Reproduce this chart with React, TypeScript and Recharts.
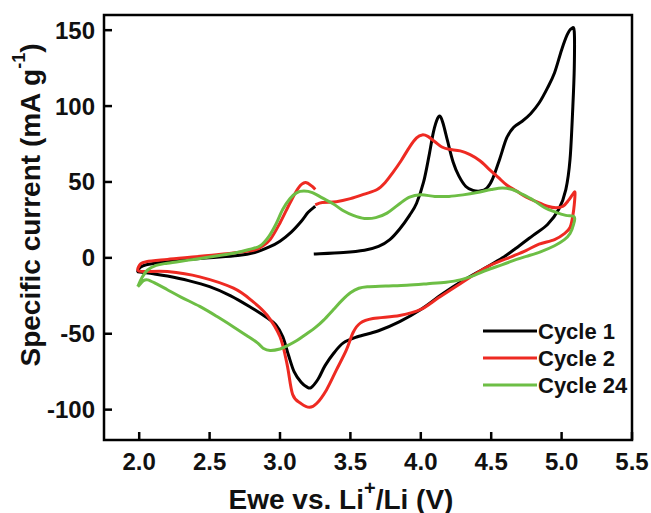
import React from 'react';
import { LineChart, Line, XAxis, YAxis, ReferenceArea, Legend } from 'recharts';

const FONT = '"Liberation Sans", Arial, Helvetica, sans-serif';

const xTicks = [2.0, 2.5, 3.0, 3.5, 4.0, 4.5, 5.0, 5.5];
const yTicks = [-100, -50, 0, 50, 100, 150];

const seriesNames = ['Cycle 1', 'Cycle 2', 'Cycle 24'];
const seriesColors = ['#000000', '#ee2a22', '#6dbe45'];

const cycle1V = [3.24, 3.45, 3.6, 3.7, 3.78, 3.85, 3.92, 3.97, 4.02, 4.06, 4.09, 4.12, 4.14, 4.16, 4.19, 4.23, 4.27, 4.32, 4.37, 4.42, 4.47, 4.51, 4.56, 4.61, 4.66, 4.72, 4.78, 4.84, 4.9, 4.95, 5.0, 5.04, 5.07, 5.09, 5.09, 5.08, 5.06, 5.03, 4.98, 4.9, 4.8, 4.7, 4.58, 4.45, 4.3, 4.15, 4.0, 3.85, 3.7, 3.55, 3.45, 3.38, 3.32, 3.27, 3.22, 3.19, 3.15, 3.1, 3.06, 3.02, 2.97, 2.9, 2.8, 2.65, 2.5, 2.35, 2.2, 2.1, 2.02, 1.99, 2.01, 2.05, 2.15, 2.3, 2.5, 2.7, 2.82, 2.92, 3.0, 3.08, 3.15, 3.2, 3.25];
const cycle1I = [2.5, 3.5, 5, 7.5, 12, 19, 28, 36, 50, 68, 83, 92, 93, 88, 77, 63, 54, 47, 44.5, 44, 46, 52, 65, 79, 86, 90, 95, 102, 112, 122, 137, 147, 151, 149, 125, 100, 65, 45, 32, 22, 15, 8, 0, -7, -15, -24, -34, -42, -48, -52, -56, -63, -71, -80, -85.5, -85, -82, -75, -64, -52, -44, -39, -33, -25, -19, -15, -12, -10.5, -9.5, -9, -6, -4.5, -3, -1.5, 0, 1.5, 3.5, 7, 11, 17, 24, 30, 34];

const cycle2V = [3.25, 3.3, 3.4, 3.5, 3.6, 3.69, 3.75, 3.8, 3.86, 3.92, 3.97, 4.01, 4.05, 4.1, 4.15, 4.2, 4.28, 4.35, 4.42, 4.49, 4.55, 4.61, 4.68, 4.75, 4.82, 4.9, 4.96, 5.01, 5.05, 5.08, 5.095, 5.09, 5.08, 5.06, 5.02, 4.95, 4.84, 4.75, 4.65, 4.47, 4.28, 4.13, 4.0, 3.85, 3.66, 3.57, 3.52, 3.47, 3.4, 3.33, 3.26, 3.21, 3.15, 3.09, 3.05, 3.0, 2.91, 2.81, 2.67, 2.43, 2.2, 2.03, 1.99, 2.01, 2.05, 2.2, 2.55, 2.81, 2.87, 2.93, 3.0, 3.07, 3.13, 3.18, 3.23, 3.25];
const cycle2I = [35, 36.5, 37, 39, 42, 45, 50, 56, 64, 73, 79, 81, 80, 76.5, 73, 71.5, 70.5, 68, 64, 58, 53, 48, 44, 40, 37, 34, 33, 34, 38, 42, 43, 35, 28, 20, 16, 12, 9, 5, 1, -6, -17, -26, -34, -38, -40, -43, -49, -61, -74, -87, -96, -98.5, -96, -90, -70, -52, -38, -29, -20, -12.5, -9, -9, -8, -4, -2.5, -1, 2, 5, 7.5, 12, 23, 36, 46, 49.6, 47, 45];

const cycle24V = [1.99, 2.02, 2.06, 2.12, 2.2, 2.35, 2.5, 2.67, 2.78, 2.86, 2.92, 2.97, 3.02, 3.07, 3.12, 3.17, 3.23, 3.3, 3.38, 3.45, 3.52, 3.6, 3.68, 3.76, 3.84, 3.92, 4.0, 4.1, 4.2, 4.3, 4.4, 4.5, 4.58, 4.65, 4.72, 4.8, 4.88, 4.96, 5.03, 5.09, 5.085, 5.06, 5.02, 4.95, 4.85, 4.75, 4.68, 4.58, 4.47, 4.38, 4.28, 4.18, 4.05, 3.9, 3.75, 3.62, 3.56, 3.5, 3.44, 3.38, 3.31, 3.25, 3.19, 3.12, 3.05, 3.0, 2.93, 2.88, 2.84, 2.76, 2.67, 2.55, 2.43, 2.3, 2.2, 2.12, 2.06, 2.03, 2.0, 1.99];
const cycle24I = [-19, -13, -8, -5, -3.5, -1.5, 0.5, 3, 5.5, 8, 14, 22, 32, 39, 43, 44, 43, 39.5, 35.5, 31, 28, 26, 26.5, 29.5, 35, 40, 41.5, 40.5, 40.5, 41.5, 43, 45, 46, 45, 42, 38, 33, 30, 28, 27, 22, 16, 12, 8, 4, 1, -1, -4.5, -8, -11.5, -14.5, -16, -17, -18, -18.5, -19, -20, -23, -28, -34, -41, -46, -50, -54.5, -58, -60, -61, -59.5, -56, -51, -45.5, -38.5, -32, -26, -21, -17, -14.5, -15, -18, -19];

const zip = (vs: number[], is: number[]) => vs.map((v, k) => ({ v, i: is[k] }));
const seriesData = [zip(cycle1V, cycle1I), zip(cycle2V, cycle2I), zip(cycle24V, cycle24I)];

// Catmull-Rom curve factory (smooth curve through the scaled points)
function catmullRom(context: any) {
  let pts: number[][] = [];
  return {
    areaStart() {},
    areaEnd() {},
    lineStart() { pts = []; },
    lineEnd() {
      if (!pts.length) return;
      context.moveTo(pts[0][0], pts[0][1]);
      for (let k = 0; k < pts.length - 1; k++) {
        const p0 = pts[k - 1] || pts[k];
        const p1 = pts[k];
        const p2 = pts[k + 1];
        const p3 = pts[k + 2] || p2;
        context.bezierCurveTo(
          p1[0] + (p2[0] - p0[0]) / 6, p1[1] + (p2[1] - p0[1]) / 6,
          p2[0] - (p3[0] - p1[0]) / 6, p2[1] - (p3[1] - p1[1]) / 6,
          p2[0], p2[1]
        );
      }
    },
    point(x: number, y: number) { pts.push([+x, +y]); },
  };
}

const XTick = (props: any) => {
  const { x, y, payload } = props;
  return (
    <g>
      <line x1={x} y1={y} x2={x} y2={y - 8} stroke="#000" strokeWidth={2.5} />
      <text x={x} y={y + 21} textAnchor="middle" dominantBaseline="central" fontSize={24} fontWeight="bold" fontFamily={FONT} fill="#111">
        {Number(payload.value).toFixed(1)}
      </text>
    </g>
  );
};

const YTick = (props: any) => {
  const { x, y, payload } = props;
  return (
    <g>
      <line x1={x} y1={y} x2={x + 8} y2={y} stroke="#000" strokeWidth={2.5} />
      <text x={x - 9} y={y} textAnchor="end" dominantBaseline="central" fontSize={24} fontWeight="bold" fontFamily={FONT} fill="#111">
        {payload.value}
      </text>
    </g>
  );
};

const XTitle = () => (
  <text x={341} y={499} textAnchor="middle" dominantBaseline="central" fontSize={28} fontWeight="bold" fontFamily={FONT} fill="#111">
    Ewe vs. Li<tspan dy={-11} fontSize={20}>+</tspan><tspan dy={11}>/Li (V)</tspan>
  </text>
);

const YTitle = () => (
  <text x={0} y={0} transform="translate(30,205) rotate(-90)" textAnchor="middle" dominantBaseline="central" fontSize={28} fontWeight="bold" fontFamily={FONT} fill="#111">
    Specific current (mA g<tspan dy={-11} fontSize={18}>-1</tspan><tspan dy={11}>)</tspan>
  </text>
);

const LegendContent = () => (
  <svg width={160} height={84}>
    {seriesNames.map((n, k) => (
      <g key={n}>
        <line x1={3} y1={15 + k * 27} x2={57} y2={15 + k * 27} stroke={seriesColors[k]} strokeWidth={3} />
        <text x={58} y={15 + k * 27} dominantBaseline="central" fontSize={22} fontWeight="bold" fontFamily={FONT} fill="#111">{n}</text>
      </g>
    ))}
  </svg>
);

export default function App() {
  return (
    <div style={{ position: 'absolute', left: 0, top: 0, background: '#fff' }}>
      <LineChart width={651} height={513} margin={{ top: 15, right: 19, left: 0, bottom: 0 }}>
        <XAxis
          type="number"
          dataKey="v"
          domain={[1.75, 5.5]}
          ticks={xTicks}
          allowDataOverflow
          height={73}
          axisLine={false}
          tickLine={false}
          tickSize={0}
          tickMargin={0}
          tick={<XTick />}
          interval={0}
          label={{ content: () => <XTitle /> }}
        />
        <YAxis
          type="number"
          dataKey="i"
          domain={[-120, 160]}
          ticks={yTicks}
          allowDataOverflow
          width={104}
          axisLine={false}
          tickLine={false}
          tickSize={0}
          tickMargin={0}
          tick={<YTick />}
          interval={0}
          label={{ content: () => <YTitle /> }}
        />
        {seriesData.map((d, k) => (
          <Line
            key={seriesNames[k]}
            data={d}
            dataKey="i"
            name={seriesNames[k]}
            stroke={seriesColors[k]}
            strokeWidth={3}
            type={catmullRom as any}
            dot={false}
            activeDot={false}
            isAnimationActive={false}
            strokeLinejoin="round"
          />
        ))}
        <ReferenceArea x1={1.75} x2={5.5} y1={-120} y2={160} fill="none" fillOpacity={0} stroke="#000" strokeWidth={2.5} ifOverflow="visible" />
        <Legend
          layout="vertical"
          align="center"
          verticalAlign="middle"
          content={() => <LegendContent />}
          wrapperStyle={{ position: 'absolute', left: 480, top: 316, width: 160, height: 84 }}
        />
      </LineChart>
    </div>
  );
}
